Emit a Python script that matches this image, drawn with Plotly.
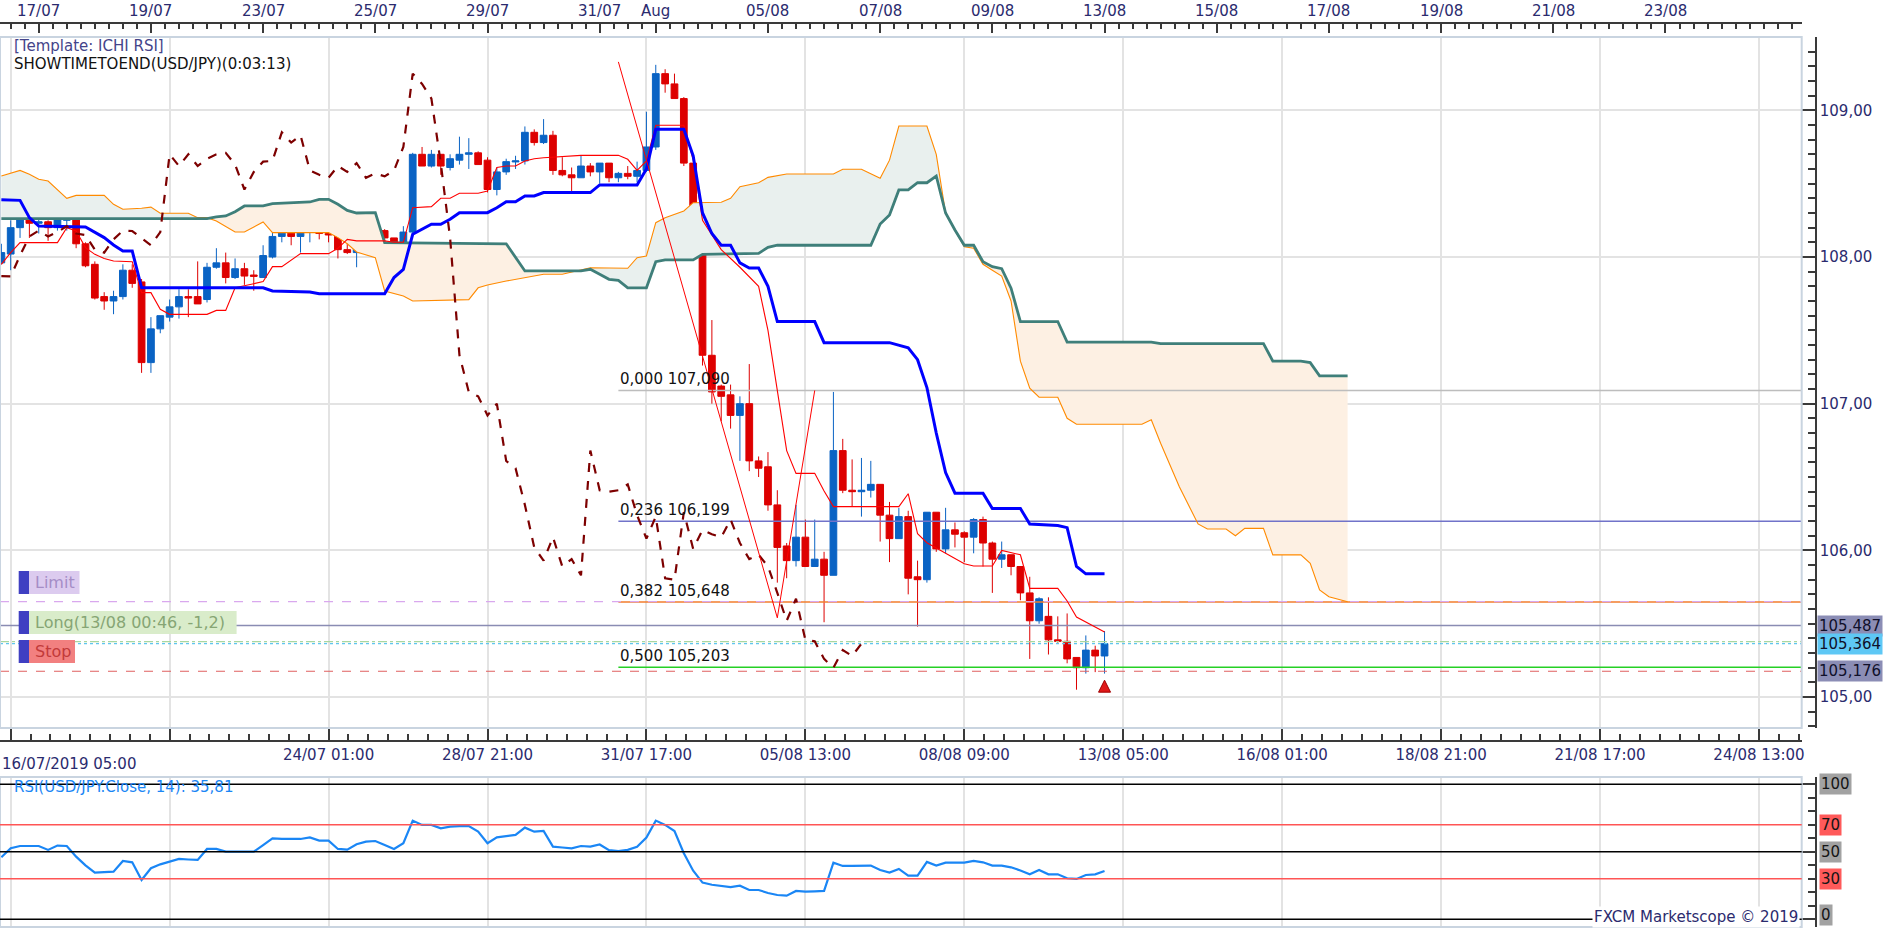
import plotly.graph_objects as go

# ---- USD/JPY H4 candles, bar 0 = 16/07/2019 01:00, last bar = 12/08 21:00 ----
opens = [107.96, 108.02, 108.20, 108.26, 108.23, 108.24, 108.20, 108.25, 108.29, 108.09,
         107.95, 107.73, 107.70, 107.73, 107.91, 107.83, 107.28, 107.51, 107.59, 107.66,
         107.73, 107.73, 107.71, 107.93, 107.96, 107.86, 107.92, 107.877, 107.86, 108.00,
         108.14, 108.18, 108.14, 108.17, 108.21, 108.16, 108.15, 108.05, 108.03, 108.12,
         108.173, 108.18, 108.13, 108.08, 108.17, 108.70, 108.62, 108.70, 108.61, 108.66,
         108.70, 108.71, 108.66, 108.46, 108.58, 108.648, 108.655, 108.85, 108.78, 108.83,
         108.59, 108.56, 108.54, 108.62, 108.58, 108.64, 108.54, 108.57, 108.55, 108.59,
         108.75, 109.25, 109.18, 109.08, 108.64, 108.13, 107.33, 107.12, 107.06, 106.92,
         107.00, 106.61, 106.57, 106.31, 106.03, 105.93, 106.09, 105.89, 105.94, 105.83,
         106.68, 106.41, 106.40, 106.41, 106.45, 106.24, 106.08, 106.23, 105.82, 105.80,
         106.26, 106.01, 106.14, 106.12, 106.09, 106.21, 106.05, 105.94, 105.97, 105.89,
         105.71, 105.52, 105.55, 105.39, 105.38, 105.27, 105.20, 105.32, 105.28]
highs = [108.09, 108.25, 108.36, 108.36, 108.32, 108.25, 108.28, 108.29, 108.31, 108.10,
         107.97, 107.76, 107.77, 107.95, 107.95, 107.85, 107.59, 107.60, 107.71, 107.78,
         107.78, 107.97, 107.96, 108.06, 108.03, 107.99, 107.96, 107.91, 108.08, 108.19,
         108.18, 108.20, 108.28, 108.28, 108.27, 108.24, 108.16, 108.13, 108.13, 108.24,
         108.23, 108.19, 108.13, 108.21, 108.71, 108.75, 108.73, 108.70, 108.70, 108.82,
         108.81, 108.72, 108.68, 108.61, 108.67, 108.69, 108.89, 108.87, 108.94, 108.86,
         108.68, 108.61, 108.69, 108.64, 108.64, 108.64, 108.58, 108.62, 108.65, 108.99,
         109.31, 109.28, 109.25, 109.09, 108.64, 108.15, 107.57, 107.13, 107.13, 107.05,
         107.27, 106.64, 106.67, 106.41, 106.05, 106.31, 106.21, 106.21, 105.99, 107.08,
         106.76, 106.62, 106.63, 106.61, 106.45, 106.33, 106.29, 106.27, 105.93, 106.26,
         106.26, 106.29, 106.19, 106.13, 106.22, 106.23, 106.06, 106.06, 105.97, 105.89,
         105.82, 105.68, 105.68, 105.55, 105.57, 105.27, 105.42, 105.35, 105.45]
lows = [107.95, 107.91, 108.13, 108.13, 108.16, 108.11, 108.18, 108.18, 108.06, 107.93,
        107.71, 107.64, 107.61, 107.71, 107.79, 107.21, 107.21, 107.48, 107.56, 107.58,
        107.59, 107.68, 107.69, 107.92, 107.82, 107.85, 107.81, 107.77, 107.86, 107.99,
        108.10, 108.08, 108.03, 108.10, 108.12, 108.10, 107.99, 108.02, 107.93, 108.10,
        108.12, 108.11, 108.05, 108.05, 108.16, 108.62, 108.61, 108.56, 108.59, 108.63,
        108.60, 108.63, 108.44, 108.42, 108.56, 108.60, 108.63, 108.76, 108.77, 108.56,
        108.55, 108.45, 108.54, 108.55, 108.50, 108.51, 108.51, 108.53, 108.51, 108.58,
        108.73, 109.12, 109.08, 108.62, 108.07, 107.26, 107.00, 106.88, 106.83, 106.61,
        106.54, 106.50, 106.27, 105.78, 105.81, 105.89, 105.89, 105.89, 105.51, 105.83,
        106.39, 106.30, 106.23, 106.36, 106.06, 105.92, 106.08, 105.70, 105.48, 105.78,
        105.99, 105.98, 106.02, 105.92, 105.98, 105.89, 105.71, 105.88, 105.83, 105.66,
        105.26, 105.50, 105.29, 105.37, 105.23, 105.05, 105.16, 105.17, 105.16]
closes = [108.03, 108.20, 108.26, 108.23, 108.24, 108.20, 108.26, 108.29, 108.09, 107.94,
          107.72, 107.70, 107.73, 107.91, 107.82, 107.28, 107.51, 107.60, 107.66, 107.73,
          107.72, 107.68, 107.93, 107.96, 107.86, 107.92, 107.87, 107.868, 108.01, 108.14,
          108.18, 108.14, 108.17, 108.21, 108.16, 108.15, 108.05, 108.03, 108.12, 108.18,
          108.177, 108.13, 108.08, 108.17, 108.70, 108.62, 108.70, 108.62, 108.67, 108.70,
          108.71, 108.63, 108.46, 108.58, 108.65, 108.655, 108.85, 108.78, 108.83, 108.59,
          108.56, 108.54, 108.62, 108.58, 108.64, 108.54, 108.57, 108.55, 108.59, 108.75,
          109.25, 109.18, 109.08, 108.64, 108.13, 107.33, 107.08, 107.05, 106.92, 107.00,
          106.61, 106.56, 106.31, 106.02, 105.93, 106.09, 105.89, 105.94, 105.83, 106.68,
          106.41, 106.40, 106.41, 106.45, 106.24, 106.08, 106.23, 105.81, 105.80, 106.26,
          106.01, 106.14, 106.11, 106.09, 106.21, 106.05, 105.94, 105.97, 105.89, 105.71,
          105.52, 105.67, 105.39, 105.38, 105.26, 105.20, 105.32, 105.28, 105.364]
bars = list(range(len(closes)))

# ---- Ichimoku lines (vertices, x = bar index) ----
tenkan_idx = [0, 1, 2, 6, 7, 8, 9, 10, 11, 12, 14, 15, 16, 17, 18, 22, 23, 24, 25, 28,
              29, 30, 32, 35, 36, 37, 38, 41, 42, 43, 44, 46, 47, 48, 49, 51, 52, 53, 54, 55,
              56, 57, 58, 62, 66, 67, 68, 69, 70, 73, 74, 75, 76, 77, 79, 81, 82, 83, 84, 85,
              87, 88, 89, 96, 97, 98, 99, 103, 104, 106, 107, 109, 110, 113, 114, 115, 118]
tenkan_val = [107.95, 108.03, 108.098, 108.098, 108.20, 108.177, 108.064, 108.018, 107.99, 107.973,
              107.968, 107.757, 107.757, 107.643, 107.609, 107.609, 107.636, 107.636, 107.79, 107.832,
              107.934, 107.934, 108.023, 108.023, 108.059, 108.12, 108.11, 108.11, 108.10, 108.10,
              108.336, 108.343, 108.40, 108.40, 108.434, 108.434, 108.45, 108.61, 108.62, 108.62,
              108.655, 108.67, 108.677, 108.693, 108.693, 108.666, 108.59, 108.655, 108.898, 108.898,
              108.66, 108.25, 108.15, 108.05, 107.93, 107.80, 107.50, 107.09, 106.68, 106.525,
              106.525, 106.405, 106.298, 106.298, 106.386, 106.114, 106.052, 105.909, 105.893, 105.893,
              106.0, 105.97, 105.741, 105.741, 105.655, 105.545, 105.443]

kijun_idx = [0, 2, 3, 4, 9, 10, 11, 12, 13, 14, 15, 28, 29, 33, 34, 41, 42, 43, 44, 46,
             47, 48, 49, 52, 53, 54, 55, 56, 57, 58, 63, 64, 68, 69, 70, 73, 74, 75, 76, 77,
             78, 79, 80, 81, 82, 83, 87, 88, 95, 97, 98, 99, 100, 101, 102, 105, 106, 109, 110, 113,
             114, 115, 116, 118]
kijun_val = [108.39, 108.386, 108.268, 108.211, 108.205, 108.166, 108.132, 108.082, 108.041, 108.041,
             107.79, 107.79, 107.768, 107.761, 107.75, 107.75, 107.86, 107.916, 108.155, 108.223,
             108.223, 108.257, 108.302, 108.302, 108.336, 108.377, 108.377, 108.416, 108.416, 108.439,
             108.439, 108.491, 108.491, 108.60, 108.87, 108.87, 108.69, 108.30, 108.16, 108.08,
             108.08, 107.96, 107.925, 107.925, 107.80, 107.56, 107.56, 107.416, 107.416, 107.38,
             107.30, 107.11, 106.80, 106.53, 106.39, 106.39, 106.285, 106.285, 106.18, 106.17,
             106.155, 105.89, 105.84, 105.84]

span_a_idx = [0, 2, 3, 4, 5, 7, 8, 11, 12, 13, 15, 16, 17, 20, 21, 22, 23, 25, 26, 28,
              29, 35, 36, 37, 38, 40, 41, 43, 44, 50, 51, 52, 54, 55, 58, 60, 63, 67, 68, 69,
              70, 71, 73, 74, 77, 78, 79, 81, 82, 84, 89, 90, 92, 94, 95, 96, 99, 100, 101, 102,
              103, 104, 105, 106, 107, 108, 109, 110, 111, 113, 114, 115, 122, 123, 124, 126, 128, 129, 131, 132,
              133, 135, 136, 139, 140, 141, 142, 144]
span_a_val = [108.552, 108.59, 108.564, 108.53, 108.518, 108.40, 108.42, 108.42, 108.359, 108.325,
              108.332, 108.34, 108.298, 108.298, 108.268, 108.268, 108.245, 108.17, 108.17, 108.239,
              108.166, 108.166, 108.132, 108.09, 108.034, 107.995, 107.768, 107.734, 107.70, 107.709,
              107.79, 107.809, 107.836, 107.848, 107.882, 107.882, 107.927, 107.923, 107.995, 108.007,
              108.234, 108.268, 108.314, 108.37, 108.373, 108.40, 108.479, 108.506, 108.543, 108.566,
              108.566, 108.598, 108.598, 108.536, 108.66, 108.893, 108.893, 108.70, 108.30, 108.18,
              108.07, 108.06, 107.95, 107.91, 107.87, 107.70, 107.29, 107.105, 107.044, 107.044,
              106.90, 106.86, 106.86, 106.89, 106.73, 106.434, 106.18, 106.146, 106.146, 106.10,
              106.15, 106.15, 105.969, 105.969, 105.912, 105.73, 105.684, 105.65]

span_b_idx = [0, 22, 23, 24, 25, 26, 28, 29, 33, 34, 35, 36, 37, 38, 40, 41, 54, 55, 56, 62,
              63, 64, 65, 66, 67, 69, 70, 71, 74, 75, 81, 82, 83, 93, 94, 95, 96, 97, 98, 99,
              100, 101, 102, 103, 104, 105, 106, 107, 108, 109, 113, 114, 123, 124, 135, 136, 139, 140, 141, 144]
span_b_val = [108.261, 108.261, 108.273, 108.28, 108.309, 108.348, 108.348, 108.364, 108.375, 108.393,
              108.393, 108.359, 108.318, 108.30, 108.302, 108.098, 108.09, 107.995, 107.905, 107.905,
              107.916, 107.882, 107.848, 107.841, 107.79, 107.79, 107.968, 107.98, 107.98, 108.018,
              108.025, 108.066, 108.08, 108.08, 108.225, 108.286, 108.457, 108.457, 108.506, 108.506,
              108.552, 108.30, 108.184, 108.08, 108.08, 107.968, 107.934, 107.92, 107.787, 107.56,
              107.56, 107.42, 107.42, 107.41, 107.41, 107.29, 107.29, 107.28, 107.19, 107.19]
chikou_shift = 26

# ---- RSI(14) per bar ----
rsi = [46, 52.6, 54.3, 54.3, 54.3, 51.4, 54.6, 54.3, 46.4, 40,
       34.6, 35, 35.3, 43.2, 42.2, 29.1, 37.8, 40.7, 42.5, 44.7,
       44.3, 44.0, 52.1, 52.1, 50.1, 50.1, 50.1, 50.1, 55, 60.0,
       59.5, 59.3, 59.5, 60.7, 58.3, 58.3, 52.1, 51.6, 55.6, 57.5,
       58.0, 55, 52.1, 56.3, 73.1, 69.9, 69.9, 67.4, 68.6, 69,
       69.1, 64.9, 56.3, 60.7, 61.6, 62.5, 67.9, 64.9, 65.4, 53.8,
       53.2, 52.6, 54.3, 53.8, 55.4, 51.2, 50.6, 51.4, 53.8, 60.5,
       73.1, 69.9, 65.4, 48.9, 36, 27.2, 25.6, 24.5, 23.9, 24.9,
       21.7, 21.7, 19.5, 18.0, 17.5, 21.0, 20.5, 20.7, 21.0, 42.0,
       39.5, 39.5, 39.5, 39.8, 36.5, 34.6, 37.3, 32.3, 32.3, 42.5,
       39.8, 42.0, 42.0, 42.0, 43.2, 42.2, 39.8, 39.8, 38.5, 36.2,
       33.3, 36.5, 33.3, 33.3, 30.4, 29.9, 32.8, 33.3, 35.81]
rsi_levels = [100, 70, 50, 30, 0]

# ---- drawings / trade levels ----
fib_start = 66
fib_ratio = ["0,000", "0,236", "0,382", "0,500"]
fib_price = [107.090, 106.199, 105.648, 105.203]
swing_idx = [66, 83, 87]
swing_price = [109.33, 105.54, 107.09]
limit_price = 105.65
position_price = 105.487
ask_price = 105.378
bid_price = 105.364
stop_price = 105.176
entry_idx = [118]
entry_mark = [105.115]

# ---- axis ticks ----
bottom_ticks = [1, 18, 35, 52, 69, 86, 103, 120, 137, 154, 171, 188]
bottom_labels = ["", "", "24/07 01:00", "28/07 21:00", "31/07 17:00", "05/08 13:00", "08/08 09:00",
                 "13/08 05:00", "16/08 01:00", "18/08 21:00", "21/08 17:00", "24/08 13:00"]
top_ticks = [4, 16, 28, 40, 52, 64, 70, 82, 94, 106, 118, 130, 142, 154, 166, 178]
top_labels = ["17/07", "19/07", "23/07", "25/07", "29/07", "31/07", "Aug", "05/08", "07/08",
              "09/08", "13/08", "15/08", "17/08", "19/08", "21/08", "23/08"]
day_marks = [4, 16, 22, 28, 40, 52, 64, 70, 82, 94, 106, 112, 118, 130, 142, 154, 166, 178]
price_ticks = [105, 106, 107, 108, 109]

# ---- page geometry ----
W, H = 1898, 928
def px(x): return x / W
def py(y): return (H - y) / H

X_RANGE = [-0.144, 192.57]
Y_RANGE = [104.789, 109.4997]
RSI_RANGE = [-5.7, 105.4]
PLOT_R = px(1801.7)
AXIS_X = px(1816)
GRID = "#e3e3e3"
AXC = "#3a3a3a"
TXT = "#2b2b6e"
FONT = "DejaVu Sans"

fig = go.Figure()

def part(xs, ys, a, b):
    sel = [(x, y) for x, y in zip(xs, ys) if a <= x <= b]
    return [s[0] for s in sel], [s[1] for s in sel]

# kumo fill, coloured by which span is on top
for a, b, col in [(0, 22, "#e9f0ee"), (22, 63, "#fdf0e3"), (63, 101, "#e9f0ee"), (101, 144, "#fdf0e3")]:
    bx, by = part(span_b_idx, span_b_val, a, b)
    ax, ay = part(span_a_idx, span_a_val, a, b)
    fig.add_trace(go.Scatter(x=bx, y=by, mode="lines", line=dict(width=0), hoverinfo="skip"))
    fig.add_trace(go.Scatter(x=ax, y=ay, mode="lines", line=dict(width=0), fill="tonexty",
                             fillcolor=col, hoverinfo="skip"))

# horizontal levels
x_end = X_RANGE[1]
for p, col in zip(fib_price, ["#bdbdbd", "#7173c9", "#f27d2c", "#25d025"]):
    fig.add_trace(go.Scatter(x=[fib_start, x_end], y=[p, p], mode="lines",
                             line=dict(color=col, width=1.5), hoverinfo="skip"))
for p, col, dash, w in [(limit_price, "#d9a8ee", "dash", 1.2), (position_price, "#8a8cb3", "solid", 1.5),
                        (ask_price, "#a9d6a0", "dashdot", 1.2), (bid_price, "#5fc6ef", "dot", 1.4),
                        (stop_price, "#e06060", "dash", 1.2)]:
    fig.add_trace(go.Scatter(x=[X_RANGE[0], x_end], y=[p, p], mode="lines",
                             line=dict(color=col, width=w, dash=dash), hoverinfo="skip"))

# senkou spans
fig.add_trace(go.Scatter(x=span_a_idx, y=span_a_val, mode="lines", line=dict(color="#ff8a00", width=1.1)))
fig.add_trace(go.Scatter(x=span_b_idx, y=span_b_val, mode="lines", line=dict(color="#3f7f7a", width=2.8)))

# candles
fig.add_trace(go.Candlestick(
    x=bars, open=opens, high=highs, low=lows, close=closes, whiskerwidth=0,
    increasing=dict(line=dict(color="#0a63c4", width=1), fillcolor="#0a63c4"),
    decreasing=dict(line=dict(color="#dd0000", width=1), fillcolor="#dd0000"),
    hoverinfo="skip"))

# tenkan, kijun, chikou
fig.add_trace(go.Scatter(x=tenkan_idx, y=tenkan_val, mode="lines", line=dict(color="#ff0000", width=1.1)))
fig.add_trace(go.Scatter(x=kijun_idx, y=kijun_val, mode="lines", line=dict(color="#0000ff", width=3)))
fig.add_trace(go.Scatter(x=bars[:len(bars) - chikou_shift], y=closes[chikou_shift:], mode="lines",
                         line=dict(color="#7d0000", width=2.2, dash="dash")))

# hand-drawn swing line
fig.add_trace(go.Scatter(x=swing_idx, y=swing_price, mode="lines", line=dict(color="#ff0000", width=1)))

# entry arrow
fig.add_trace(go.Scatter(x=entry_idx, y=entry_mark, mode="markers",
                         marker=dict(symbol="arrow-up", size=12, color="#e01818",
                                     line=dict(color="#a00000", width=1))))

# day markers on the top axis
fig.add_trace(go.Scatter(x=day_marks, y=[Y_RANGE[1] + 0.058] * len(day_marks), xaxis="x2", mode="markers",
                         marker=dict(symbol="triangle-down", size=9, color="#f5a623"),
                         cliponaxis=False, hoverinfo="skip"))

# RSI
fig.add_trace(go.Scatter(x=bars, y=rsi, xaxis="x3", yaxis="y3", mode="lines",
                         line=dict(color="#1a86f5", width=2.2)))

shapes = [
    dict(type="rect", xref="paper", yref="paper", x0=0, x1=PLOT_R, y0=py(728), y1=py(37),
         line=dict(color="#c9d4e0", width=2), layer="above"),
    dict(type="rect", xref="paper", yref="paper", x0=0, x1=PLOT_R, y0=py(927), y1=py(777),
         line=dict(color="#c9d4e0", width=2), layer="above"),
]
for lv, col in zip(rsi_levels, ["#000000", "#ff5555", "#000000", "#ff5555", "#000000"]):
    shapes.append(dict(type="line", xref="paper", yref="y3", x0=0, x1=PLOT_R, y0=lv, y1=lv,
                       line=dict(color=col, width=1.5)))

annotations = [
    dict(text="[Template: ICHI RSI]", x=px(12), y=py(46), font=dict(color="#44448a", size=15)),
    dict(text="SHOWTIMETOEND(USD/JPY)(0:03:13)", x=px(12), y=py(64), font=dict(color="#111111", size=15)),
    dict(text="RSI(USD/JPY.Close, 14): 35,81", x=px(12), y=py(787), font=dict(color="#1a86f5", size=15)),
    dict(text="16/07/2019 05:00", x=0, y=py(764), font=dict(color=TXT, size=15)),
    dict(text="FXCM Marketscope © 2019", x=px(1800), y=py(917), xanchor="right",
         font=dict(color=TXT, size=15), bgcolor="white"),
]
for a in annotations:
    a.setdefault("xref", "paper")
    a.setdefault("yref", "paper")
    a.setdefault("xanchor", "left")
    a["yanchor"] = "middle"
    a["showarrow"] = False

# top date labels
for t, lab in zip(top_ticks, top_labels):
    annotations.append(dict(text=lab, x=t, y=py(11), xref="x", yref="paper", xanchor="center",
                            yanchor="middle", showarrow=False, font=dict(color=TXT, size=15)))

for r, p in zip(fib_ratio, fib_price):
    annotations.append(dict(text=f"{r} {p:.3f}".replace(".", ","), x=fib_start, y=p, xref="x", yref="y",
                            xanchor="left", yanchor="bottom", yshift=0, showarrow=False,
                            font=dict(color="#111111", size=15)))

for p, bg in [(position_price, "#8b8db5"), (bid_price, "#5ec8f5"), (stop_price, "#8b8db5")]:
    annotations.append(dict(text=f"{p:.3f}".replace(".", ","), x=px(1817), y=p, xref="paper", yref="y",
                            xanchor="left", yanchor="middle", showarrow=False, bgcolor=bg, borderpad=1,
                            font=dict(color="#10102a", size=15)))

for lv, bg in zip(rsi_levels, ["#a2a2a2", "#ff5a5a", "#a2a2a2", "#ff5a5a", "#a2a2a2"]):
    annotations.append(dict(text=str(lv), x=px(1819), y=lv, xref="paper", yref="y3",
                            xanchor="left", yanchor="middle", yshift=4 if lv == 0 else 0,
                            showarrow=False, bgcolor=bg, borderpad=1,
                            font=dict(color="#151515", size=15)))

# order flags on the left
for label, top, bottom, right, bg, fg in [("Limit", 571, 594, 79.5, "#dccbef", "#a58dc6"),
                                          ("Long(13/08 00:46, -1,2)", 611, 634, 236.6, "#d9ecca", "#86a574"),
                                          ("Stop", 640, 663, 75, "#f28080", "#c23a3a")]:
    shapes.append(dict(type="rect", xref="paper", yref="paper", x0=px(29), x1=px(right),
                       y0=py(bottom), y1=py(top), fillcolor=bg, line=dict(width=0), layer="above"))
    shapes.append(dict(type="rect", xref="paper", yref="paper", x0=px(18.7), x1=px(29),
                       y0=py(bottom), y1=py(top), fillcolor="#3f3fc2", line=dict(width=0), layer="above"))
    annotations.append(dict(text=label, x=px(33), y=py((top + bottom) / 2), xref="paper", yref="paper",
                            xanchor="left", yanchor="middle", showarrow=False,
                            font=dict(color=fg, size=16)))

fig.update_layout(
    width=W, height=H, margin=dict(l=0, r=0, t=0, b=0, autoexpand=False),
    paper_bgcolor="white", plot_bgcolor="white", showlegend=False,
    font=dict(family=FONT, size=14, color=TXT),
    boxgap=0.28, boxgroupgap=0,
    shapes=shapes, annotations=annotations,
    xaxis=dict(domain=[0, PLOT_R], range=X_RANGE, anchor="free", position=py(741), side="bottom",
               tickmode="array", tickvals=bottom_ticks, ticktext=bottom_labels,
               ticks="inside", ticklen=13, tickwidth=1.5, tickcolor=AXC,
               showline=True, linecolor=AXC, linewidth=1.5,
               showgrid=True, gridcolor=GRID, gridwidth=1.5, zeroline=False,
               minor=dict(tick0=1, dtick=17 / 8, ticks="inside", ticklen=6, tickcolor=AXC, showgrid=False),
               tickfont=dict(size=15, color=TXT), ticklabelstandoff=0,
               rangeslider=dict(visible=False), automargin=False),
    xaxis2=dict(domain=[0, PLOT_R], range=X_RANGE, overlaying="x", anchor="free", position=py(23), side="top",
                tickmode="array", tickvals=top_ticks, showticklabels=False,
                ticks="inside", ticklen=9, tickwidth=1.5, tickcolor=AXC,
                showline=True, linecolor=AXC, linewidth=1.5, showgrid=False, zeroline=False,
                minor=dict(tick0=4, dtick=1.5, ticks="inside", ticklen=5, tickcolor=AXC, showgrid=False),
                automargin=False),
    yaxis=dict(domain=[py(728), py(37)], range=Y_RANGE, anchor="free", position=AXIS_X, side="right",
               tickmode="array", tickvals=price_ticks, ticktext=[f"{v:.2f}".replace(".", ",") for v in price_ticks],
               ticks="inside", ticklen=14, tickwidth=1.5, tickcolor=AXC,
               showline=True, linecolor=AXC, linewidth=1.5,
               showgrid=True, gridcolor=GRID, gridwidth=1.5, zeroline=False,
               minor=dict(dtick=0.1, ticks="inside", ticklen=7, tickcolor=AXC, showgrid=False),
               tickfont=dict(size=15, color=TXT), automargin=False),
    xaxis3=dict(domain=[0, PLOT_R], range=X_RANGE, anchor="y3", tickmode="array", tickvals=bottom_ticks,
                showticklabels=False, ticks="", showgrid=True, gridcolor=GRID, gridwidth=1.5,
                zeroline=False, showline=False, automargin=False),
    yaxis3=dict(domain=[py(927), py(777)], range=RSI_RANGE, anchor="free", position=AXIS_X, side="right",
                tickmode="array", tickvals=[0, 50, 100], showticklabels=False,
                ticks="inside", ticklen=14, tickwidth=1.5, tickcolor=AXC,
                showline=True, linecolor=AXC, linewidth=1.5, showgrid=False, zeroline=False,
                minor=dict(dtick=10, ticks="inside", ticklen=7, tickcolor=AXC, showgrid=False),
                automargin=False),
)

# the page's default body margin would shift the 1898x928 figure; drop it
fig.write_html("out.html", config={"displayModeBar": False},
               post_script="document.body.style.margin='0';document.body.style.overflow='hidden';")
